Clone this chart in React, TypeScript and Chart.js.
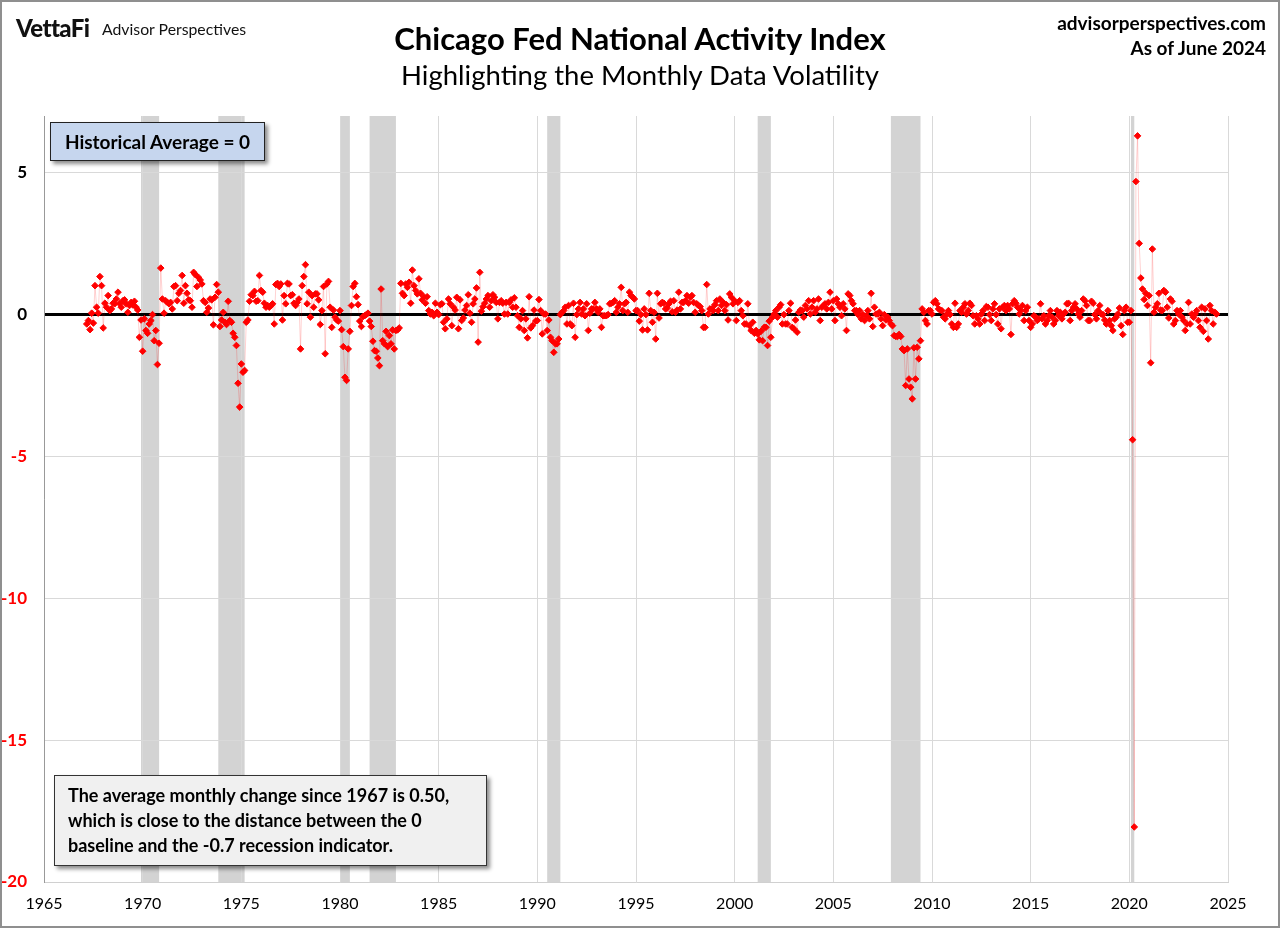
import React, { useEffect, useRef } from "react";
import { Chart, registerables } from "chart.js";

Chart.register(...registerables);

// Monthly CFNAI readings, first value = March 1967
const startYear = 1967;
const startMonth = 3;

const cfnai1967to1969 = [
  -0.33, -0.21, -0.53, 0.05, -0.3, 1.02, 0.26, 0.05, 1.34, 1.02,
  -0.47, 0.4, 0.26, 0.67, 0.14, 0.2, 0.4, 0.38, 0.55, 0.79, 0.38, 0.26,
  0.49, 0.52, 0.38, 0.08, 0.32, 0.43, 0.34, 0.47, 0.26, 0.16, -0.8, -0.19,
];

const cfnai1970s = [
  -1.29, -0.15, -0.56, -0.66, -0.33, -0.21, 0, -0.92, -0.56, -1.76, -1.01, 1.64,
  0.55, 0.05, 0.49, 0.43, 0.38, 0.43, 0.2, 0.99, 1.02, 0.49, 0.75, 0.85,
  1.38, 0.4, 1.02, 0.75, 0.52, 0.49, 0.26, 1.49, 1.41, 0.99, 1.31, 1.22,
  1.08, 0.49, 0.43, 0.08, 0.23, 0.55, 0.52, -0.36, 0.61, 1.06, 0.79, -0.42,
  -0.19, 0.08, -0.27, -0.35, 0.47, -0.21, -0.27, -0.66, -0.8, -1.09, -2.42, -3.26,
  -1.74, -2.03, -1.97, -0.27, -0.19, 0.47, 0.7, 0.67, 0.82, 0.47, 0.49, 1.38,
  0.85, 0.79, 0.4, 0.26, 0.32, 0.26, 0.32, 0.38, -0.33, 1.06, 1.1, 0.99,
  1.08, -0.19, 0.67, 0.38, 1.1, 1.08, 0.67, 0.7, 0.4, 0.32, 0.43, 0.55,
  -1.21, 1.02, 1.34, 1.76, 0.38, 0.79, -0.09, 0.67, 0.26, 0.73, 0.73, 0.52,
  -0.35, 0.14, 0.99, -1.38, 1.08, 1.17, 0.26, -0.45, 0.16, -0.09, -0.19, -0.23,
];

const cfnai1980s = [
  0.14, -0.53, -1.13, -2.21, -2.32, -1.21, -0.59, 0.32, 0.99, 1.1, 0.63, 0.35,
  -0.23, -0.42, -0.07, -0.04, 0, 0.05, -0.23, -0.42, -0.94, -1.27, -1.29, -1.53,
  -1.8, 0.9, -0.92, -1.03, -0.59, -1.13, -0.74, -1.03, -0.54, -1.21, -0.56, -0.54,
  -0.47, 1.1, 0.75, 0.67, 1.08, 0.96, 1.14, 0.4, 1.57, 1.02, 0.85, 0.73,
  1.26, 0.75, 0.52, 0.63, 0.4, 0.63, 0.14, 0.02, 0.08, -0.04, 0.4, 0.08,
  0, 0.35, 0.38, -0.27, -0.5, -0.15, 0.55, 0.38, -0.39, 0.26, 0.16, 0.61,
  -0.5, 0.52, -0.21, -0.12, 0.16, 0.32, 0.7, 0.05, -0.27, 0.38, 0.55, 0.94,
  -0.97, 1.49, 0.12, 0.28, 0.4, 0.55, 0.67, 0.26, 0.49, 0.7, 0.61, 0.43,
  -0.15, 0.43, 0.49, 0.4, 0.02, 0.43, 0.02, 0.43, 0.52, 0.26, 0.59, 0.26,
  -0.04, -0.45, -0.15, 0.14, -0.56, -0.15, -0.82, 0.63, -0.47, -0.39, 0.16, -0.23,
];

const cfnai1990s = [
  -0.21, 0.53, 0.14, -0.68, 0.02, 0.02, -0.56, -0.19, -0.8, -0.92, -1.33, -1.03,
  -1.03, -0.86, 0, 0.08, 0.14, 0.26, -0.33, 0.32, -0.33, -0.39, 0.4, -0.8,
  0, 0.2, 0.43, 0.02, 0.2, -0.04, 0.38, -0.56, 0.05, 0.2, 0.2, 0.43,
  0.2, 0.08, 0.2, -0.45, -0.04, -0.04, -0.04, 0, 0.38, 0.4, 0.43, 0.49,
  0.08, 0.26, 0.38, 0.96, 0.14, 0.38, 0.43, 0.08, 0.79, 0.67, 0.61, 0.55,
  0.14, 0.14, -0.23, 0, -0.54, 0.2, 0, -0.54, 0.75, 0.14, -0.27, 0.08,
  -0.86, 0.75, -0.12, 0.38, 0.43, 0.4, 0.2, 0.23, 0.38, 0.47, 0.1, 0.49,
  0.08, 0.16, 0.79, 0.2, 0.43, 0.43, 0.49, 0.67, 0.4, 0.61, 0.67, 0.43,
  0.08, 0.38, 0.32, 0.28, 0.14, -0.45, -0.45, 1.06, 0.02, 0.2, 0.2, 0.14,
  0.35, 0.49, 0.14, 0.55, 0.32, 0.43, 0.14, 0.35, -0.19, 0.73, 0.61, 0.38,
];

const cfnai2000s = [
  0.49, -0.21, 0.43, 0.49, 0.14, -0.04, -0.33, -0.33, 0.38, -0.39, -0.56, -0.27,
  -0.66, -0.56, -0.68, -0.89, -0.59, -0.92, -0.45, -0.45, -1.09, -0.23, -0.8, -0.09,
  0.02, 0.14, -0.09, 0.26, 0.35, -0.33, 0, -0.33, -0.33, 0.14, 0.4, -0.45,
  -0.5, -0.19, -0.62, 0.08, 0.16, 0.14, -0.09, 0.32, 0.2, 0.49, 0.02, 0.26,
  0.49, 0.08, 0.2, 0.55, -0.21, 0.26, 0.32, 0.38, 0.2, 0.43, 0.79, 0.2,
  0.49, -0.21, 0.55, 0.38, 0.26, -0.04, 0.38, 0.2, -0.56, 0.73, 0.67, 0.49,
  0.38, 0.14, 0.14, 0, 0.14, -0.15, 0, -0.21, -0.04, 0.14, -0.15, 0.75,
  -0.42, 0.26, 0.02, 0.02, 0.08, -0.15, -0.39, 0, -0.19, -0.09, -0.21, -0.33,
  -0.39, -0.74, -0.77, -0.77, -0.7, -0.77, -1.21, -1.27, -2.5, -1.21, -2.27, -2.56,
  -2.97, -1.17, -2.27, -1.15, -1.56, -0.92, 0.2, 0.08, -0.21, -0.33, 0.14, 0.14,
];

const cfnai2010s = [
  0.02, 0.43, 0.49, 0.38, 0.2, 0.16, 0.14, -0.09, -0.15, 0.02, 0.14, 0,
  -0.33, -0.45, 0.4, -0.45, -0.33, 0.14, 0.08, 0.26, 0.38, 0.02, 0.14, 0.4,
  0.32, -0.04, -0.33, -0.04, -0.15, -0.33, 0.02, 0.14, -0.21, 0.28, 0.26, 0,
  -0.21, 0.2, 0.38, 0, -0.33, 0.2, -0.5, 0.26, 0.32, 0.14, 0.32, 0.2,
  -0.7, 0.38, 0.49, 0.4, 0.26, 0.02, 0.14, 0.32, -0.21, 0.14, 0.26, -0.21,
  -0.45, -0.33, -0.04, -0.09, -0.21, -0.15, 0.38, -0.15, -0.04, -0.33, -0.21, -0.04,
  0.14, -0.09, -0.33, -0.21, 0.14, -0.04, 0.08, -0.15, 0.02, 0.08, 0.38, 0.4,
  -0.21, 0.14, 0.26, 0.38, 0.2, 0.02, -0.09, 0.14, 0.55, 0.49, 0.32, -0.21,
  -0.21, 0.47, 0.4, 0, -0.15, 0.14, 0.32, 0.02, 0, -0.19, -0.33, 0.14,
  -0.21, -0.39, -0.56, -0.15, -0.09, 0.02, 0.23, -0.39, -0.7, 0.14, 0.26, -0.27,
];

const cfnai2020to2024 = [
  -0.27, 0.14, -4.41, -18.06, 4.69, 6.3, 2.51, 1.29, 0.9, 0.53, 0.75, 0.32,
  0.67, -1.7, 2.31, 0.08, 0.26, 0.38, 0.75, 0.16, 0.14, 0.85, 0.79, 0.26,
  -0.12, 0.55, 0.47, -0.33, -0.21, 0.14, 0.02, 0.14, -0.09, -0.21, -0.56, -0.33,
  0.43, -0.33, 0.02, -0.09, 0.02, 0.14, -0.21, -0.45, 0.26, -0.59, 0.2, -0.21,
  -0.86, 0.32, 0.14, -0.33, 0.08, 0.02,
];

// NBER recessions (first month, last month)
const recessionStarts = ["1969-12", "1973-11", "1980-01", "1981-07", "1990-07", "2001-03", "2007-12", "2020-02"];
const recessionEnds = ["1970-11", "1975-03", "1980-07", "1982-11", "1991-03", "2001-11", "2009-06", "2020-04"];

const yTicks = [5, 0, -5, -10, -15, -20];

const FONT = "Lato, 'Open Sans', sans-serif";

const monthToYear = (s: string) => {
  const [y, m] = s.split("-").map(Number);
  return y + (m - 1) / 12;
};

const recessionPlugin = {
  id: "recessionBands",
  beforeDraw(chart: any) {
    const { ctx, chartArea, scales } = chart;
    const x = scales.x;
    ctx.save();
    ctx.fillStyle = "#d3d3d3";
    recessionStarts.forEach((s, i) => {
      const x0 = x.getPixelForValue(monthToYear(s));
      const x1 = x.getPixelForValue(monthToYear(recessionEnds[i]));
      ctx.fillRect(x0, chartArea.top, x1 - x0, chartArea.bottom - chartArea.top);
    });
    ctx.restore();
  },
};

export default function App() {
  const canvasRef = useRef<HTMLCanvasElement | null>(null);

  useEffect(() => {
    const values = [
      ...cfnai1967to1969,
      ...cfnai1970s,
      ...cfnai1980s,
      ...cfnai1990s,
      ...cfnai2000s,
      ...cfnai2010s,
      ...cfnai2020to2024,
    ];
    const points = values.map((v, i) => ({ x: startYear + (startMonth - 1 + i) / 12, y: v }));
    const chart = new Chart(canvasRef.current as HTMLCanvasElement, {
      type: "line",
      data: {
        datasets: [
          {
            data: points,
            borderColor: "rgba(255,0,0,0.18)",
            borderWidth: 1,
            pointStyle: "rectRot",
            pointRadius: 3.3,
            pointBackgroundColor: "#ff0000",
            pointBorderColor: "#ff0000",
            pointBorderWidth: 1,
            tension: 0,
          },
        ],
      },
      options: {
        animation: false,
        responsive: false,
        maintainAspectRatio: false,
        layout: { padding: { left: 0, top: 116, right: 52, bottom: 0 } },
        plugins: { legend: { display: false }, tooltip: { enabled: false } },
        scales: {
          x: {
            type: "linear",
            min: 1965,
            max: 2025,
            afterFit: (s: any) => {
              s.height = 46;
            },
            ticks: {
              stepSize: 5,
              padding: 12,
              color: "#000",
              font: { family: FONT, size: 16 },
              callback: (v: any) => String(v),
            },
            grid: { color: "#d9d9d9", lineWidth: 1, drawTicks: false },
            border: { color: "#d0d0d0" },
          },
          y: {
            min: -20,
            max: 7,
            afterFit: (s: any) => {
              s.width = 44;
            },
            afterBuildTicks: (s: any) => {
              s.ticks = yTicks.map((v) => ({ value: v }));
            },
            ticks: {
              padding: 17,
              color: (c: any) => (c.tick && c.tick.value < 0 ? "#ff0000" : "#000"),
              font: { family: FONT, size: 17, weight: "bold" },
              callback: (v: any) => String(v),
            },
            grid: {
              color: (c: any) => (c.tick && c.tick.value === 0 ? "#000" : "#d9d9d9"),
              lineWidth: (c: any) => (c.tick && c.tick.value === 0 ? 3 : 1),
              drawTicks: false,
            },
            border: { color: "#999" },
          },
        },
      },
      plugins: [recessionPlugin],
    } as any);
    return () => chart.destroy();
  }, []);

  const abs = (o: React.CSSProperties): React.CSSProperties => ({ position: "absolute", margin: 0, ...o });

  return (
    <div style={{ position: "absolute", left: 0, top: 0, width: 1280, height: 928, background: "#fff", fontFamily: FONT, overflow: "hidden" }}>
      <canvas ref={canvasRef} width={1280} height={928} style={abs({ left: 0, top: 0, width: 1280, height: 928 })} />
      <div style={abs({ left: 0, top: 0, width: 1280, height: 928, border: "2px solid #8f8f8f", boxSizing: "border-box", pointerEvents: "none" })} />
      <div style={abs({ left: 16, top: 13, fontSize: 24, fontWeight: 900, letterSpacing: -0.6, color: "#111", lineHeight: "30px" })}>VettaFi</div>
      <div style={abs({ left: 102, top: 19, fontSize: 15.8, color: "#111", lineHeight: "20px" })}>Advisor Perspectives</div>
      <div style={abs({ left: 0, width: 1280, top: 18, textAlign: "center", fontSize: 31, fontWeight: "bold", color: "#000", lineHeight: "40px" })}>
        Chicago Fed National Activity Index
      </div>
      <div style={abs({ left: 0, width: 1280, top: 58, textAlign: "center", fontSize: 27.5, color: "#000", lineHeight: "34px" })}>
        Highlighting the Monthly Data Volatility
      </div>
      <div style={abs({ right: 14, top: 10, fontSize: 19, fontWeight: "bold", textAlign: "right", lineHeight: "25px", color: "#000" })}>
        advisorperspectives.com
        <br />
        As of June 2024
      </div>
      <div
        style={abs({
          left: 50,
          top: 122,
          width: 215,
          height: 39,
          boxSizing: "border-box",
          background: "#c6d6ee",
          border: "1px solid #222",
          boxShadow: "3px 3px 4px rgba(0,0,0,0.45)",
          fontSize: 19,
          fontWeight: "bold",
          display: "flex",
          alignItems: "center",
          justifyContent: "center",
        })}
      >
        Historical Average = 0
      </div>
      <div
        style={abs({
          left: 54,
          top: 775,
          width: 433,
          height: 91,
          boxSizing: "border-box",
          background: "#f0f0f0",
          border: "1px solid #333",
          boxShadow: "3px 3px 4px rgba(0,0,0,0.45)",
          fontSize: 18,
          fontWeight: "bold",
          lineHeight: "25px",
          padding: "7px 0 0 13px",
          color: "#000",
          whiteSpace: "nowrap",
        })}
      >
        The average monthly change since 1967 is 0.50,
        <br />
        which is close to the distance between the 0
        <br />
        baseline and the -0.7 recession indicator.
      </div>
    </div>
  );
}
